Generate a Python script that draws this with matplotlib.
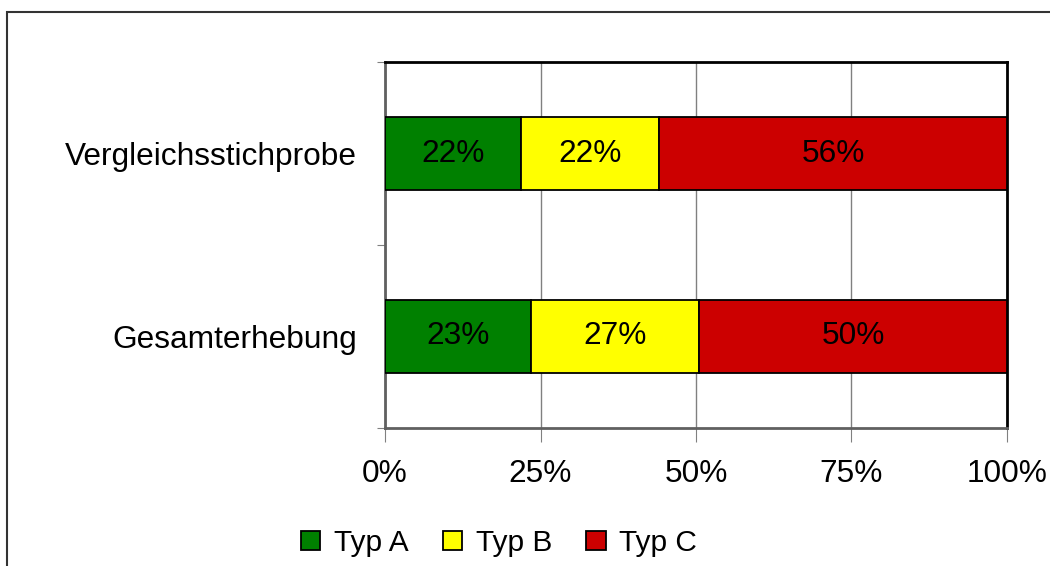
import matplotlib.pyplot as plt
from matplotlib.patches import Rectangle

categories = ["Gesamterhebung", "Vergleichsstichprobe"]
series_names = ["Typ A", "Typ B", "Typ C"]
typ_a = [23.4, 21.9]
typ_b = [27.1, 22.2]
typ_c = [49.5, 55.9]
labels_a = ["23%", "22%"]
labels_b = ["27%", "22%"]
labels_c = ["50%", "56%"]
colors = ["#008000", "#FFFF00", "#CC0000"]
xticks = [0, 25, 50, 75, 100]
xticklabels = ["0%", "25%", "50%", "75%", "100%"]

plt.rcParams['font.family'] = ['Liberation Sans', 'DejaVu Sans']
fs = 22.8

fig = plt.figure(figsize=(10.5, 5.66), dpi=100)
ax = fig.add_axes([385 / 1050, 1 - 428 / 566, (1007 - 385) / 1050, (428 - 62) / 566])

# outer frame of the figure (cut off at right and bottom)
fig.patches.append(Rectangle((7 / 1050, -0.2), 1.2, 0.2 + (566 - 12) / 566,
                             transform=fig.transFigure, fill=False,
                             edgecolor="#333333", linewidth=1.5, clip_on=False))

ypos = [0.5, 1.5]
h = 0.4
left = [0, 0]
for vals, labs, col, name in zip([typ_a, typ_b, typ_c], [labels_a, labels_b, labels_c],
                                 colors, series_names):
    bars = ax.barh(ypos, vals, height=h, left=left, color=col, edgecolor="black",
                   linewidth=1.3, label=name, zorder=3)
    ax.bar_label(bars, labels=labs, label_type="center", fontsize=fs, color="black")
    left = [l + v for l, v in zip(left, vals)]

ax.set_xlim(0, 100)
ax.set_ylim(0, 2)
ax.set_xticks(xticks)
ax.set_xticklabels(xticklabels, fontsize=fs)
ax.set_yticks([0, 1, 2])
ax.set_yticklabels([])
ax.set_yticks(ypos, minor=True)
ax.set_yticklabels(categories, minor=True, fontsize=fs)
ax.tick_params(axis="y", which="minor", length=0, pad=20)
ax.tick_params(axis="y", which="major", length=6, color="#808080")
ax.tick_params(axis="x", length=10, color="#808080", pad=12)
ax.grid(axis="x", color="#808080", linewidth=1, zorder=0)

ax.spines["left"].set_color("#606060")
ax.spines["bottom"].set_color("#606060")
ax.spines["left"].set_linewidth(2)
ax.spines["bottom"].set_linewidth(2)
ax.spines["top"].set_color("black")
ax.spines["right"].set_color("black")
ax.spines["top"].set_linewidth(2)
ax.spines["right"].set_linewidth(2)

leg = ax.legend(loc="center", bbox_to_anchor=(499 / 1050, 1 - 543 / 566),
                bbox_transform=fig.transFigure, ncol=3, frameon=False, fontsize=21.5,
                handlelength=0.65, handleheight=0.65, handletextpad=0.45, columnspacing=1.15)

fig.savefig("out.png", dpi=100)
